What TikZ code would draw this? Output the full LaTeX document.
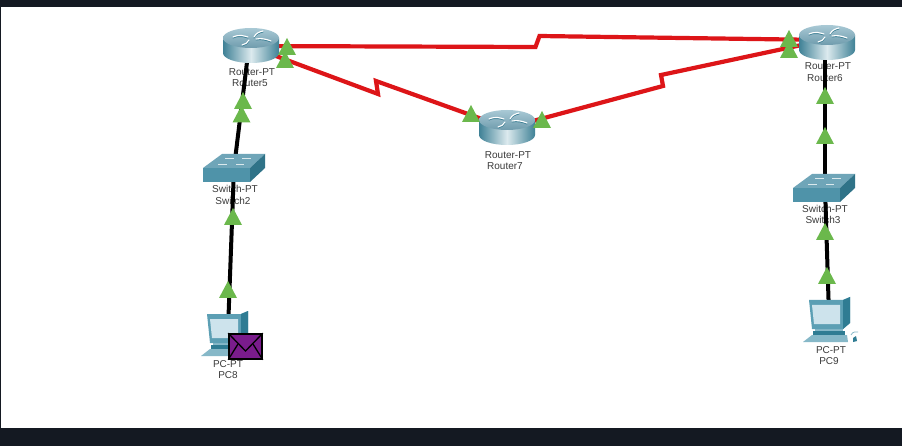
\documentclass[tikz,border=0pt]{standalone}
\usepackage{fontspec}
\setmainfont{Liberation Sans}
\definecolor{frame}{HTML}{141922}
\definecolor{linkred}{HTML}{DD1518}
\definecolor{tri}{HTML}{6BB84C}
\definecolor{labelc}{HTML}{3A3A3A}
\definecolor{topa}{HTML}{A9C9D5}
\definecolor{topb}{HTML}{6F9CAD}
\definecolor{sidea}{HTML}{3F8196}
\definecolor{sidem}{HTML}{DCEAEE}
\definecolor{swtop}{HTML}{6FA5B8}
\definecolor{swfront}{HTML}{4F93A9}
\definecolor{swside}{HTML}{2F7388}
\definecolor{pcedge}{HTML}{5C9FB4}
\definecolor{pcscreen}{HTML}{CDE3EC}
\definecolor{pcdark}{HTML}{2F7C93}
\definecolor{pcbase}{HTML}{86B8C8}
\definecolor{envel}{HTML}{7A1C8C}
\tikzset{
  x=1pt,y=-1pt,
  redlink/.style={draw=linkred,line width=4.2pt,line join=miter},
  blacklink/.style={draw=black,line width=4pt},
  devlabel/.style={font=\fontsize{10}{11}\selectfont,text=labelc,inner sep=0pt},
  devcentre/.style={inner sep=0pt,minimum size=0pt},
  gtri/.pic={\fill[tri] (0,0) -- (9,17) -- (-9,17) -- cycle;},
  routerdev/.pic={
    % centre of top ellipse at origin
    \path[left color=sidea,right color=sidea,middle color=sidem]
      (-28,0) -- (-28,15) .. controls (-28,20.5) and (-15.5,25) .. (0,25)
      .. controls (15.5,25) and (28,20.5) .. (28,15) -- (28,0) -- cycle;
    \path[top color=topa,bottom color=topb] (0,0) circle[x radius=28pt,y radius=10pt];
    \draw[sidea,line width=1pt,line cap=round] (-18,0) .. controls (-11,-3) and (-7,-1) .. (-3,0);
    \draw[sidea,line width=1pt,line cap=round] (3,0) .. controls (5,-4) and (8,-5) .. (12,-6);
    \draw[sidea,line width=1pt,line cap=round] (5,2) .. controls (10,1) and (15,2) .. (20,4);
    \draw[sidea,line width=1pt,line cap=round] (-2,3) .. controls (-3,6) and (-6,7) .. (-9,8);
    \draw[white,line width=1.1pt,line cap=round] (-18,-1) .. controls (-11,-4) and (-7,-2) .. (-3,-1);
    \draw[white,line width=1.1pt,line cap=round] (3,-1) .. controls (5,-5) and (8,-6) .. (12,-7);
    \draw[white,line width=1.1pt,line cap=round] (5,1) .. controls (10,0) and (15,1) .. (20,3);
    \draw[white,line width=1.1pt,line cap=round] (-2,2) .. controls (-3,5) and (-6,6) .. (-9,7);
  },
  switchdev/.pic={
    % origin at front-left top vertex
    \fill[swtop] (0,0) -- (19,-14) -- (62,-14) -- (47,0) -- cycle;
    \fill[swfront] (0,0) -- (47,0) -- (47,14) -- (0,14) -- cycle;
    \fill[swside] (47,0) -- (62,-14) -- (62,0) -- (47,14) -- cycle;
    \draw[white!75!swtop,line width=.9pt] (15,-4) -- (24,-4) (22,-10) -- (31,-10) (33,-4) -- (41,-4) (39,-10) -- (48,-10);
  },
  pcdev/.pic={
    % origin at upper-left of monitor
    \fill[pcbase] (-6,43) -- (3,36) -- (38,36) -- (39,43) -- cycle;
    \draw[pcbase,line width=.8pt] (42,36) .. controls (44,32) and (47,33) .. (49,33);
    \fill[pcdark] (44,39) -- (47,37) -- (48,42) -- (44,43) -- cycle;
    \fill[pcdark] (4,32) -- (36,32) -- (36,36) -- (4,36) -- cycle;
    \fill[pcbase] (6,28) -- (34,28) -- (34,32) -- (6,32) -- cycle;
    \fill[pcedge] (0,1) -- (34,1) -- (41,-2) -- (41,24) -- (34,30) -- (3,30) -- cycle;
    \fill[pcdark] (34,1) -- (41,-2) -- (41,24) -- (34,30) -- cycle;
    \fill[pcscreen] (3,6) -- (31,6) -- (31,25) -- (5,25) -- cycle;
  },
}
\begin{document}
\begin{tikzpicture}
\useasboundingbox (0,0) rectangle (902,446);
\fill[white] (0,0) rectangle (902,446);
\fill[frame] (0,0) rectangle (902,7);
\fill[frame] (0,428) rectangle (902,446);
\fill[frame] (0,0) rectangle (1,446);

% device centres
\node[devcentre] (r5) at (249,46) {};
\node[devcentre] (r6) at (825,40) {};
\node[devcentre] (r7) at (507,128) {};
\node[devcentre] (s2) at (234,168) {};
\node[devcentre] (s3) at (825,188) {};
\node[devcentre] (p8) at (228,330) {};
\node[devcentre] (p9) at (829,315) {};
% bends of the serial links
\coordinate (b1) at (535.5,47);
\coordinate (b2) at (539.5,36);
\coordinate (b3) at (378,94);
\coordinate (b4) at (376,81);
\coordinate (b5) at (663,86);
\coordinate (b6) at (661,75);

% labels lie under the cables
\node[devlabel] (l5a) at (252,72) {Router-PT};
\node[devlabel] (l5b) at (250,83) {Router5};
\node[devlabel] (l6a) at (828,66) {Router-PT};
\node[devlabel] (l6b) at (825,78) {Router6};
\node[devlabel] (l7a) at (508,155) {Router-PT};
\node[devlabel] (l7b) at (505,166) {Router7};
\node[devlabel] (l2a) at (235,189) {Switch-PT};
\node[devlabel] (l2b) at (233,201) {Switch2};
\node[devlabel] (l3a) at (825,209) {Switch-PT};
\node[devlabel] (l3b) at (823,220) {Switch3};
\node[devlabel] (l8a) at (228,364) {PC-PT};
\node[devlabel] (l8b) at (228,375) {PC8};
\node[devlabel] (l9a) at (831,350) {PC-PT};
\node[devlabel] (l9b) at (829,361) {PC9};

% cables
\draw[blacklink] (r5.center) -- (s2.center);
\draw[blacklink] (s2.center) -- (p8.center);
\draw[blacklink] (r6.center) -- (s3.center);
\draw[blacklink] (s3.center) -- (p9.center);
\draw[redlink] (r5.center) -- (b1) -- (b2) -- (r6.center);
\draw[redlink] (r5.center) -- (b3) -- (b4) -- (r7.center);
\draw[redlink] (r7.center) -- (b5) -- (b6) -- (r6.center);

% devices
\pic at (251,38) {routerdev};
\pic at (827,35) {routerdev};
\pic at (507,120) {routerdev};
\pic at (203,168) {switchdev};
\pic at (793,188) {switchdev};
\pic at (207,313) {pcdev};
\pic at (809,299) {pcdev};

% envelope
\node[draw=black,line width=1.6pt,fill=envel,minimum width=33pt,minimum height=25pt,inner sep=0pt] (env) at (245.5,346.5) {};
\draw[black,line width=1.3pt] (env.north west) -- (245.5,351) -- (env.north east);
\draw[black,line width=1.3pt] (env.south west) -- (238,344) (env.south east) -- (253,344);

% link lights
\pic at (287,38) {gtri};
\pic at (285,51) {gtri};
\pic at (243,92) {gtri};
\pic at (241.5,105.5) {gtri};
\pic at (233,208) {gtri};
\pic at (228,281) {gtri};
\pic at (471,105) {gtri};
\pic at (542,111) {gtri};
\pic at (789,30) {gtri};
\pic at (789,41) {gtri};
\pic at (825,87) {gtri};
\pic at (825,127) {gtri};
\pic at (825,223) {gtri};
\pic at (827,267) {gtri};
\end{tikzpicture}
\end{document}
